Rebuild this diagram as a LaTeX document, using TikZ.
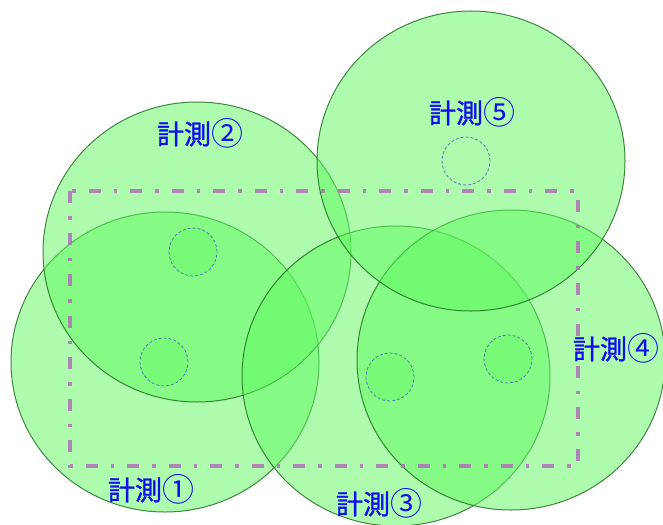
\documentclass[tikz,border=0pt]{standalone}
\usepackage{fontspec}
\usepackage{xcolor}
\usepackage{tikz}
\usetikzlibrary{shapes.geometric,positioning}
\newfontfamily\jpfont[FakeBold=1.2]{Noto Sans CJK JP}
\newfontfamily\jpthin{Noto Sans CJK JP}
\newcommand\cnum[1]{{\jpthin\fontsize{16}{16}\selectfont\raisebox{-0.5pt}{#1}}}

\definecolor{areagreen}{RGB}{94,250,94}
\definecolor{edgegreen}{RGB}{25,105,25}
\definecolor{holeblue}{RGB}{80,125,180}
\definecolor{framepurple}{RGB}{176,112,182}
\definecolor{labelblue}{RGB}{15,15,235}

\begin{document}
\begin{tikzpicture}[x=0.5pt,y=-0.5pt,
    meas/.style={ellipse, draw=edgegreen, fill=areagreen, fill opacity=0.5,
                 draw opacity=0.8, line width=0.5pt, inner sep=0pt,
                 minimum width=154pt, minimum height=150pt},
    hole/.style={circle, draw=holeblue, dash pattern=on 1.5pt off 1pt,
                 line width=0.4pt, inner sep=0pt, minimum size=24pt},
    frame/.style={draw=framepurple, draw opacity=0.85, line width=1.75pt,
                  dash pattern=on 6pt off 6.5pt on 1.75pt off 6.5pt},
    tag/.style={text=labelblue, inner sep=0pt,
                font=\jpfont\fontsize{13.5}{14}\selectfont}]
        \useasboundingbox (0,0) rectangle (663,524);
        % measurement areas
        \node[meas] (m_1) at (165,362) {};
        \node[meas] (m_2) at (197,252) {};
        \node[meas] (m_3) at (396,376) {};
        \node[meas] (m_4) at (511,360) {};
        \node[meas] (m_5) at (471,161) {};
        % sensor holes
        \node[hole, fill=green, fill opacity=0.1] (h_1) at (164,362) {};
        \node[hole, fill=green, fill opacity=0.1] (h_2) at (193,252) {};
        \node[hole, fill=green, fill opacity=0.1] (h_3) at (390,377) {};
        \node[hole, fill=green, fill opacity=0.1] (h_4) at (508,359) {};
        \node[hole]                               (h_5) at (466,161) {};
        % target frame
        \coordinate (f_nw) at (70,191);
        \coordinate (f_se) at (578,466);
        \draw[frame] (f_nw) rectangle (f_se);
        % labels
        \node[tag] (l_1) at (151,489) {計測\cnum{①}};
        \node[tag] (l_2) at (200,133) {計測\cnum{②}};
        \node[tag] (l_3) at (379,503) {計測\cnum{③}};
        \node[tag] (l_4) at (616,348) {計測\cnum{④}};
        \node[tag] (l_5) at (472,112) {計測\cnum{⑤}};
      \end{tikzpicture}
\end{document}
